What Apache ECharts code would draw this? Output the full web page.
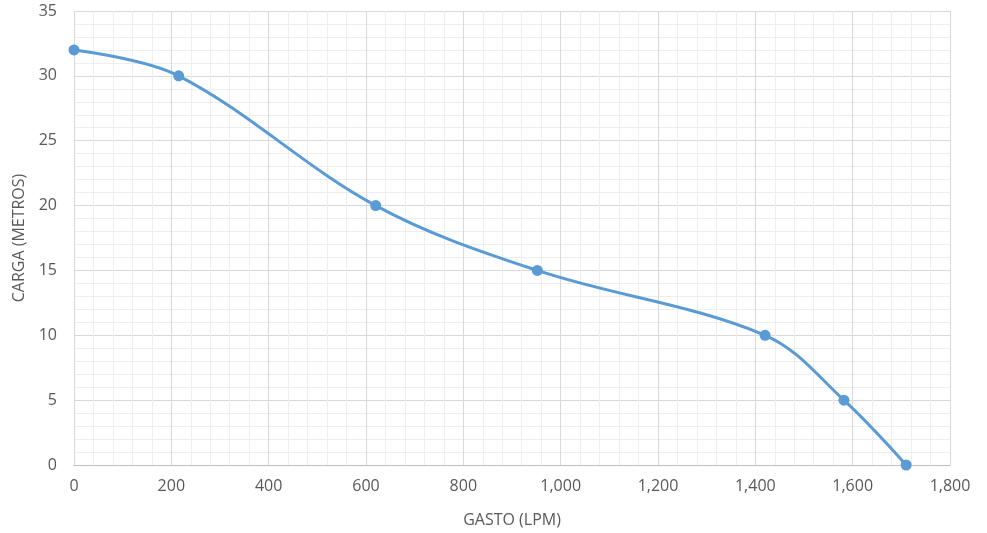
<!DOCTYPE html>
<html><head><meta charset="utf-8">
<script src="https://cdn.jsdelivr.net/npm/echarts@6/dist/echarts.min.js"></script>
<style>html,body{margin:0;padding:0;background:#fff}#c{width:987px;height:533px}</style>
</head><body><div id="c"></div>
<script>
const gasto = [0, 215, 620, 952, 1420, 1582, 1710];
const carga = [32, 30, 20, 15, 10, 5, 0];
const xName = 'GASTO (LPM)';
const yName = 'CARGA (METROS)';

const chart = echarts.init(document.getElementById('c'));
const font = 'Open Sans';
const lbl = '#595959';
chart.setOption({
  animation: false,
  grid: {left: 74, right: 37, top: 11, bottom: 66, containLabel: false},
  xAxis: {
    type: 'value', min: 0, max: 1800, interval: 200,
    name: xName, nameLocation: 'middle', nameGap: 47,
    nameTextStyle: {color: lbl, fontSize: 16, fontFamily: font},
    axisLine: {show: true, lineStyle: {color: '#bfbfbf', width: 1}},
    axisTick: {show: false},
    axisLabel: {color: lbl, fontSize: 16, fontFamily: font, margin: 13,
      formatter: v => v.toLocaleString('en-US')},
    splitLine: {show: true, lineStyle: {color: '#d9d9d9', width: 1}},
    minorTick: {show: false, splitNumber: 5},
    minorSplitLine: {show: true, lineStyle: {color: '#eeeeee', width: 1}}
  },
  yAxis: {
    type: 'value', min: 0, max: 35, interval: 5,
    name: yName, nameLocation: 'middle', nameGap: 44,
    nameTextStyle: {color: lbl, fontSize: 16, fontFamily: font},
    axisLine: {show: false},
    axisTick: {show: false},
    axisLabel: {color: lbl, fontSize: 16, fontFamily: font, margin: 17},
    splitLine: {show: true, lineStyle: {color: '#d9d9d9', width: 1}},
    minorTick: {show: false, splitNumber: 5},
    minorSplitLine: {show: true, lineStyle: {color: '#eeeeee', width: 1}}
  },
  series: [{
    type: 'line',
    data: gasto.map((g, i) => [g, carga[i]]),
    smooth: 0.35,
    symbol: 'circle', symbolSize: 11,
    lineStyle: {color: '#5b9bd5', width: 3},
    itemStyle: {color: '#5b9bd5'}
  }]
});
</script></body></html>
